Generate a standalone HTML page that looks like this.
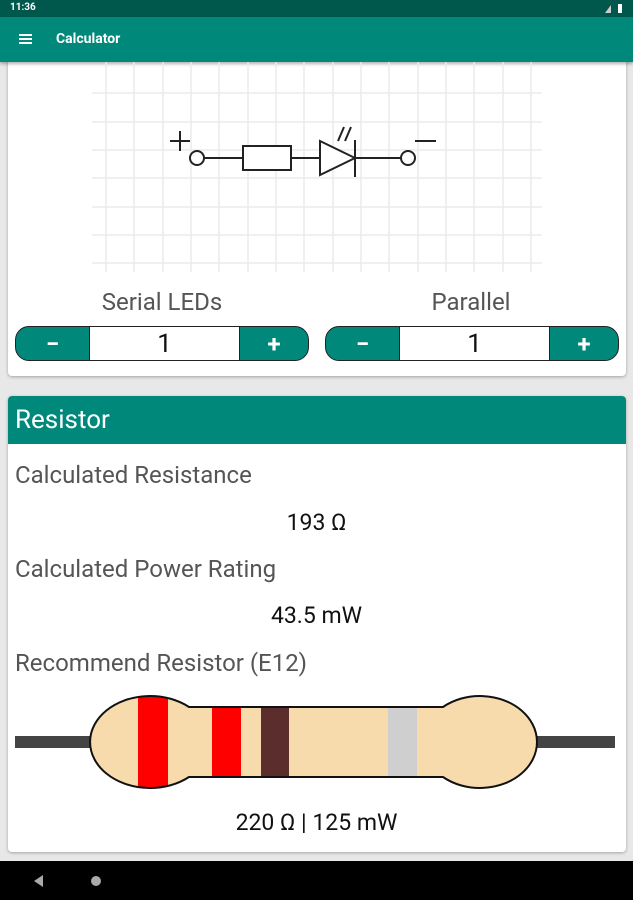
<!DOCTYPE html>
<html><head><style>
body{margin:0;width:633px;height:900px;background:#e8e8e8;position:relative;overflow:hidden;font-family:"Roboto","Liberation Sans",sans-serif}
.a{position:absolute}
.card{background:#fff;border-radius:4px;box-shadow:0 1px 3px rgba(0,0,0,.3)}
.lbl{font-size:24px;color:#555}
.val{font-size:23px;color:#111;width:633px;text-align:center;left:0}
.st{height:35px;border:1.5px solid #222;border-radius:14px;background:#00897b;overflow:hidden;box-sizing:border-box}
.st .w{position:absolute;top:0;bottom:0;background:#fff;border-left:1.5px solid #222;border-right:1.5px solid #222;text-align:center;font-size:26px;line-height:34px;color:#111}
.st .b{position:absolute;top:0;bottom:0;color:#fff;font-weight:bold;font-size:24px;line-height:34px;text-align:center}
</style></head><body>
<div class="a card" style="left:8px;top:56px;width:618px;height:320px"></div>
<div class="a" style="left:0;top:0;width:633px;height:17px;background:#00574b"></div>
<div class="a" style="left:10px;top:2px;font-size:10px;color:#fff;font-weight:bold">11:36</div>
<div class="a" style="left:605px;top:5px;width:0;height:0;border-left:6px solid transparent;border-bottom:8px solid #ccc"></div>
<div class="a" style="left:618px;top:4px;width:4px;height:9px;background:#fff"></div>
<div class="a" style="left:0;top:17px;width:633px;height:45px;background:#00897b;box-shadow:0 2px 3px rgba(0,0,0,.3)"></div>
<div class="a" style="left:19px;top:34px;width:13px;height:2px;background:#fff;box-shadow:0 4px 0 #fff,0 8px 0 #fff"></div>
<div class="a" style="left:56px;top:31px;font-size:14px;color:#fff;font-weight:bold">Calculator</div>
<svg class="a" style="left:0;top:62px" width="633" height="220">
<g stroke="#ebebeb" stroke-width="1.5">
<line x1="106" y1="0" x2="106" y2="210"/><line x1="134" y1="0" x2="134" y2="210"/><line x1="163" y1="0" x2="163" y2="210"/><line x1="191" y1="0" x2="191" y2="210"/><line x1="219" y1="0" x2="219" y2="210"/><line x1="248" y1="0" x2="248" y2="210"/><line x1="276" y1="0" x2="276" y2="210"/><line x1="304" y1="0" x2="304" y2="210"/><line x1="333" y1="0" x2="333" y2="210"/><line x1="361" y1="0" x2="361" y2="210"/><line x1="389" y1="0" x2="389" y2="210"/><line x1="418" y1="0" x2="418" y2="210"/><line x1="446" y1="0" x2="446" y2="210"/><line x1="474" y1="0" x2="474" y2="210"/><line x1="503" y1="0" x2="503" y2="210"/><line x1="531" y1="0" x2="531" y2="210"/>
<line x1="92" y1="31" x2="542" y2="31"/><line x1="92" y1="60" x2="542" y2="60"/><line x1="92" y1="88" x2="542" y2="88"/><line x1="92" y1="116" x2="542" y2="116"/><line x1="92" y1="145" x2="542" y2="145"/><line x1="92" y1="173" x2="542" y2="173"/><line x1="92" y1="201" x2="542" y2="201"/>
</g>
<g stroke="#222" stroke-width="2" fill="none">
<circle cx="197" cy="96" r="7" fill="#fff"/><circle cx="408" cy="96" r="7" fill="#fff"/>
<line x1="204" y1="96" x2="243" y2="96"/><rect x="243" y="84" width="48" height="24" fill="#fff"/>
<line x1="291" y1="96" x2="320" y2="96"/><polygon points="320,79 355,96 320,113" fill="#fff"/>
<line x1="355" y1="78" x2="355" y2="115"/><line x1="355" y1="96" x2="401" y2="96"/>
<line x1="170" y1="79" x2="190" y2="79"/><line x1="180" y1="69" x2="180" y2="89"/>
<line x1="415" y1="79" x2="436" y2="79"/>
<line x1="338" y1="79" x2="344" y2="65"/><line x1="345" y1="79" x2="351" y2="65"/>
</g></svg>
<div class="a lbl" style="left:62px;top:288px;width:200px;text-align:center">Serial LEDs</div>
<div class="a lbl" style="left:371px;top:288px;width:200px;text-align:center">Parallel</div>
<div class="a st" style="left:15px;top:326px;width:294px"><div class="b" style="left:0;width:73px">−</div><div class="w" style="left:73px;width:149px">1</div><div class="b" style="left:222px;width:72px">+</div></div>
<div class="a st" style="left:325px;top:326px;width:294px"><div class="b" style="left:0;width:73px">−</div><div class="w" style="left:73px;width:149px">1</div><div class="b" style="left:222px;width:72px">+</div></div>
<div class="a card" style="left:8px;top:396px;width:618px;height:456px;overflow:hidden">
<div style="height:48px;background:#00897b;color:#fff;font-size:26px;line-height:48px;padding-left:7px">Resistor</div></div>
<div class="a lbl" style="left:15px;top:461px">Calculated Resistance</div>
<div class="a val" style="top:509px">193 Ω</div>
<div class="a lbl" style="left:15px;top:555px">Calculated Power Rating</div>
<div class="a val" style="top:602px">43.5 mW</div>
<div class="a lbl" style="left:15px;top:649px">Recommend Resistor (E12)</div>
<svg class="a" style="left:0;top:690px" width="633" height="105">
<defs><clipPath id="c"><path d="M189,17 L443,17 A57,46 0 1,1 443,87 L189,87 A60,46 0 1,1 189,17 Z"/></clipPath></defs>
<rect x="15" y="46" width="600" height="12" fill="#444"/>
<g clip-path="url(#c)"><rect x="80" y="0" width="470" height="105" fill="#f7dbad"/>
<rect x="138" y="0" width="30" height="105" fill="#f00"/><rect x="212" y="0" width="29" height="105" fill="#f00"/>
<rect x="261" y="0" width="28" height="105" fill="#5c2d2d"/><rect x="388" y="0" width="29" height="105" fill="#cfcfcf"/></g>
<path d="M189,17 L443,17 A57,46 0 1,1 443,87 L189,87 A60,46 0 1,1 189,17 Z" stroke="#111" stroke-width="2" fill="none"/>
</svg>
<div class="a val" style="top:809px">220 Ω | 125 mW</div>
<div class="a" style="left:0;top:861px;width:633px;height:39px;background:#000"></div>
<div class="a" style="left:34px;top:875px;width:0;height:0;border-top:6px solid transparent;border-bottom:6px solid transparent;border-right:9px solid #aaa"></div>
<div class="a" style="left:91px;top:876px;width:10px;height:10px;border-radius:50%;background:#aaa"></div>
</body></html>
